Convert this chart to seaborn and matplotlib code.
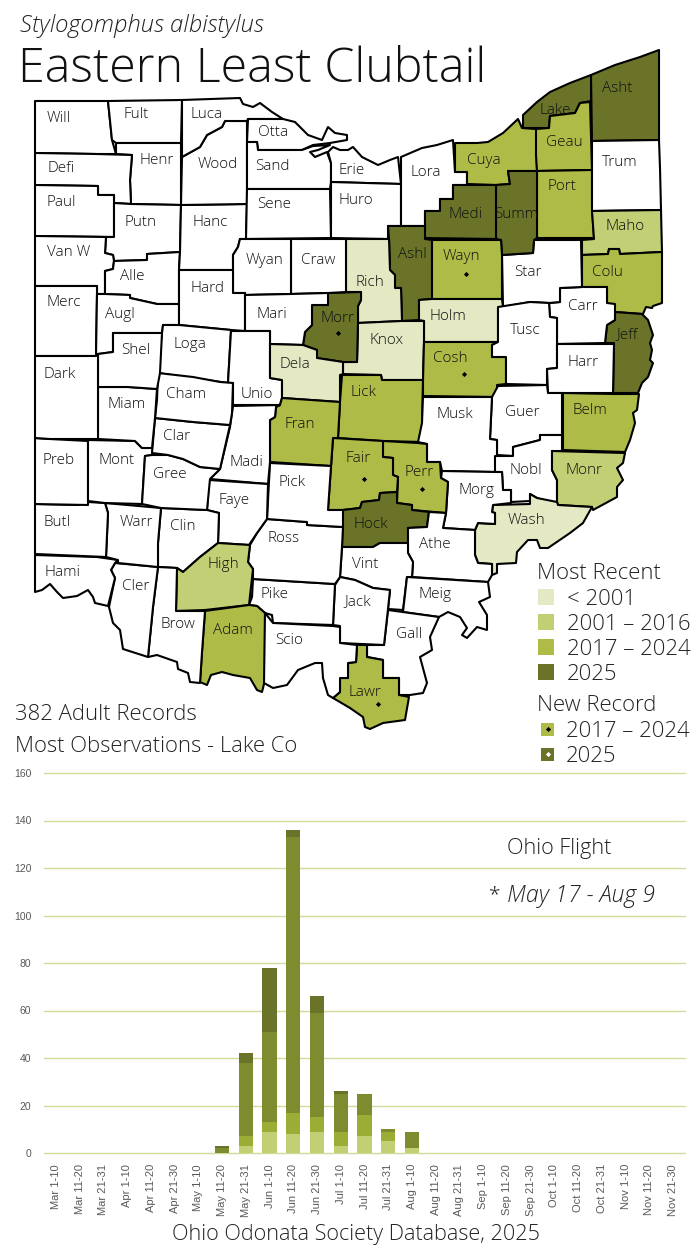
"""
Eastern Least Clubtail - Ohio county map and flight-period chart.
Saves out.png (700x1250).
"""

import matplotlib
matplotlib.use("Agg")
import matplotlib.pyplot as plt
from matplotlib.patches import Polygon, Rectangle
import seaborn as sns

# ─── Flight chart data ───────────────────────────────────────────────────────

periods = [
    "Mar 1-10", "Mar 11-20", "Mar 21-31", "Apr 1-10", "Apr 11-20", "Apr 21-30",
    "May 1-10", "May 11-20", "May 21-31", "Jun 1-10", "Jun 11-20", "Jun 21-30",
    "Jul 1-10", "Jul 11-20", "Jul 21-31", "Aug 1-10", "Aug 11-20", "Aug 21-31",
    "Sep 1-10", "Sep 11-20", "Sep 21-30", "Oct 1-10", "Oct 11-20", "Oct 21-31",
    "Nov 1-10", "Nov 11-20", "Nov 21-30",
]
span_2001 = [0, 0, 0, 0, 0, 0, 0, 0, 3, 9, 8, 9, 3, 7, 5, 2, 0, 0, 0, 0, 0, 0, 0, 0, 0, 0, 0]
span_2017 = [0, 0, 0, 0, 0, 0, 0, 0, 4, 4, 9, 6, 6, 9, 4, 0, 0, 0, 0, 0, 0, 0, 0, 0, 0, 0, 0]
span_2024 = [0, 0, 0, 0, 0, 0, 0, 2, 31, 38, 116, 44, 16, 9, 1, 7, 0, 0, 0, 0, 0, 0, 0, 0, 0, 0, 0]
span_2025 = [0, 0, 0, 0, 0, 0, 0, 1, 4, 27, 3, 7, 1, 0, 0, 0, 0, 0, 0, 0, 0, 0, 0, 0, 0, 0, 0]
y_ticks = [0, 20, 40, 60, 80, 100, 120, 140, 160]

# ─── County outlines (map pixels) ────────────────────────────────────────────

WILL = [(35,101),(108,101),(112,140),(116,154),(96,154),(35,153)]
FULT = [(108,101),(182,100),(181,143),(116,143),(112,140)]
HENR = [(116,143),(181,143),(181,205),(131,204),(130,180),(132,155),(116,154)]
DEFI = [(35,153),(96,154),(132,155),(130,180),(131,204),(114,203),(114,195),(98,195),(98,186),(35,185)]
PAUL = [(35,185),(98,186),(98,195),(114,195),(114,237),(35,236)]
PUTN = [(114,203),(131,204),(181,205),(180,252),(147,254),(147,260),(114,261),(113,255),(105,253),(106,237),(114,237)]
VANW = [(35,236),(106,237),(105,253),(113,255),(114,261),(113,269),(105,271),(105,294),(97,294),(97,286),(35,286)]
ALLE = [(114,261),(147,260),(147,254),(180,252),(179,270),(179,304),(157,304),(130,298),(130,295),(105,294),(105,271),(113,269)]
MERC = [(35,286),(97,286),(97,294),(96,356),(35,356)]
AUGL = [(97,294),(105,294),(130,295),(130,298),(157,304),(179,304),(179,325),(163,325),(162,333),(113,333),(113,352),(98,354),(96,356)]
HANC = [(181,205),(247,204),(246,239),(240,239),(238,247),(233,255),(233,270),(179,270),(180,252)]
WOOD = [(182,157),(200,147),(207,135),(222,127),(225,121),(247,121),(247,189),(247,204),(181,205)]
LUCA = [(182,100),(240,98),(243,104),(253,107),(260,103),(272,112),(283,119),(248,119),(247,121),(225,121),(222,127),(207,135),(200,147),(182,157)]
OTTA = [(248,119),(283,119),(295,122),(308,135),(322,140),(328,127),(335,133),(347,135),(347,140),(330,143),(313,145),(302,150),(258,150),(257,142),(247,142)]
SAND = [(247,142),(257,142),(258,150),(302,150),(313,146),(330,145),(318,150),(310,152),(315,157),(327,152),(328,155),(331,163),(331,182),(330,189),(247,189)]
SENE = [(247,189),(330,189),(331,238),(246,239)]
ERIE = [(328,152),(333,147),(340,150),(348,150),(353,147),(362,157),(378,165),(390,160),(398,157),(401,184),(331,182),(331,163)]
HURO = [(331,182),(401,184),(401,226),(388,226),(388,239),(331,238)]
LORA = [(401,157),(422,148),(437,145),(453,140),(455,172),(467,172),(467,185),(453,185),(453,199),(440,199),(440,211),(425,211),(425,226),(401,226)]
CUYA = [(455,143),(477,143),(488,142),(503,133),(518,119),(522,128),(536,129),(537,171),(508,171),(510,184),(496,185),(467,184),(467,172),(455,172)]
LAKE = [(523,115),(537,102),(550,92),(570,83),(591,75),(591,101),(580,103),(575,113),(550,116),(549,128),(523,128)]
ASHT = [(591,75),(615,65),(640,57),(659,50),(659,140),(592,141)]
GEAU = [(580,103),(590,102),(592,170),(537,171),(536,155),(536,129),(549,128),(550,116),(575,113)]
PORT = [(537,171),(592,170),(592,208),(594,238),(537,238)]
TRUM = [(592,141),(659,140),(660,168),(661,210),(592,211)]
MAHO = [(592,211),(661,210),(662,252),(620,254),(619,249),(609,249),(608,254),(582,255),(582,240),(594,239)]
COLU = [(582,255),(608,254),(609,249),(619,249),(620,254),(662,252),(662,303),(653,306),(652,308),(646,307),(643,314),(615,312),(607,303),(607,287),(582,287)]
JEFF = [(615,312),(642,314),(648,320),(653,335),(650,343),(652,350),(650,360),(653,363),(648,377),(642,383),(638,393),(613,393),(614,343),(605,343),(607,325),(615,320)]
CARR = [(560,288),(582,287),(607,287),(607,303),(615,304),(615,320),(607,325),(605,343),(557,344),(557,318),(550,317),(549,303),(560,302)]
STAR = [(502,255),(533,253),(534,240),(581,240),(582,287),(560,288),(560,302),(549,303),(530,302),(503,307)]
SUMM = [(496,185),(510,184),(508,171),(537,171),(537,238),(534,240),(533,253),(502,255),(501,240),(496,239)]
MEDI = [(453,185),(496,185),(496,239),(425,238),(425,211),(440,211),(440,199),(453,199)]
ASHL = [(388,226),(425,226),(425,239),(432,240),(432,299),(419,300),(419,320),(402,321),(401,288),(395,288),(395,275),(390,270),(389,239)]
WAYN = [(432,240),(501,240),(502,255),(502,299),(432,299)]
HOLM = [(419,300),(432,299),(502,299),(503,307),(498,308),(498,342),(424,342),(424,321),(419,320)]
RICH = [(346,239),(389,239),(390,270),(395,275),(395,288),(401,288),(402,321),(358,323),(358,306),(361,300),(361,292),(346,292)]
KNOX = [(358,323),(402,321),(424,321),(424,342),(423,380),(382,380),(381,375),(343,374),(343,362),(357,362)]
MORR = [(328,293),(361,292),(361,300),(358,306),(358,323),(357,362),(343,362),(317,358),(317,350),(303,345),(305,332),(312,325),(312,305),(328,305)]
CRAW = [(291,239),(346,239),(346,292),(328,293),(291,294)]
WYAN = [(240,239),(291,239),(291,294),(245,295),(245,293),(233,293),(233,255),(238,247)]
HARD = [(179,270),(233,270),(233,293),(245,293),(245,331),(231,330),(179,325)]
MARI = [(245,295),(291,294),(328,293),(328,305),(312,305),(312,325),(305,332),(303,345),(270,344),(270,331),(245,331)]
LOGA = [(163,325),(179,325),(231,330),(228,383),(193,378),(158,373),(160,350)]
UNIO = [(231,331),(270,331),(270,378),(282,380),(282,398),(280,405),(233,405),(233,383),(228,383)]
DELA = [(270,344),(303,345),(317,350),(317,358),(343,362),(343,374),(340,375),(340,402),(282,398),(282,380),(270,378)]
LICK = [(342,375),(381,375),(382,380),(423,380),(422,423),(422,442),(383,441),(338,438),(340,402)]
COSH = [(424,342),(498,342),(492,345),(492,357),(506,357),(506,384),(497,385),(497,397),(423,396),(423,381)]
TUSC = [(498,307),(530,302),(549,303),(550,317),(557,318),(557,368),(547,369),(547,385),(506,384),(506,357),(492,357),(492,345),(498,342)]
HARR = [(557,344),(614,344),(613,393),(548,393),(547,369),(557,368)]
GUER = [(498,386),(547,385),(548,393),(562,393),(562,435),(540,435),(540,440),(513,447),(513,456),(497,455),(497,440),(490,439),(492,397)]
MUSK = [(423,397),(492,397),(490,439),(497,440),(497,455),(495,472),(442,471),(440,462),(427,462),(427,444),(418,442),(422,423)]
BELM = [(563,393),(613,394),(639,394),(637,410),(633,413),(635,423),(630,440),(625,452),(563,450)]
NOBL = [(495,456),(513,456),(513,447),(540,440),(540,435),(562,435),(562,451),(552,451),(552,470),(557,480),(557,502),(547,502),(537,498),(530,494),(530,501),(511,502),(511,490),(503,490),(502,472),(495,472)]
MONR = [(552,451),(625,453),(623,463),(617,468),(623,480),(617,487),(617,497),(593,510),(592,507),(558,505),(557,502),(557,480),(552,470)]
WASH = [(493,505),(530,504),(530,494),(537,498),(557,502),(558,505),(592,507),(583,523),(570,533),(548,548),(540,548),(537,540),(528,540),(517,552),(516,563),(497,564),(497,573),(492,575),(492,564),(478,563),(475,555),(475,530),(478,523),(495,524),(495,513),(492,512)]
MORG = [(442,471),(495,472),(502,472),(503,490),(511,490),(511,503),(493,505),(492,512),(495,513),(495,524),(478,523),(475,530),(443,528),(446,513),(448,482),(441,478)]
PERR = [(383,441),(418,443),(427,444),(427,462),(440,462),(441,478),(448,482),(446,513),(412,510),(412,505),(397,503),(398,477),(393,475),(393,458),(383,457)]
FAIR = [(333,438),(383,441),(383,457),(393,458),(393,475),(398,477),(397,492),(380,493),(379,500),(362,502),(360,508),(343,510),(328,510),(331,467)]
FRAN = [(282,398),(340,402),(338,438),(333,438),(331,466),(270,462),(270,420),(275,417),(276,407),(280,405)]
HOCK = [(380,493),(397,492),(397,503),(412,505),(412,510),(429,512),(427,527),(408,528),(408,543),(380,543),(373,547),(342,547),(343,510),(360,508),(362,502),(379,500)]
ATHE = [(429,512),(446,513),(443,528),(475,530),(475,555),(478,563),(492,564),(492,575),(488,582),(412,577),(413,562),(408,553),(408,528),(427,527)]
VINT = [(342,547),(373,547),(380,543),(408,543),(408,553),(413,562),(412,577),(407,577),(403,610),(388,609),(390,590),(373,588),(355,580),(340,577)]
MEIG = [(407,577),(488,582),(490,597),(479,602),(487,615),(487,630),(477,627),(467,638),(462,635),(467,628),(460,617),(448,612),(439,617),(403,612)]
GALL = [(388,610),(439,617),(430,637),(432,650),(420,657),(427,683),(423,693),(410,695),(399,695),(399,678),(383,678),(383,660),(367,657),(367,645),(384,645)]
LAWR = [(357,645),(367,645),(367,657),(383,660),(383,678),(399,678),(399,695),(409,697),(405,720),(383,723),(370,729),(365,727),(363,717),(350,708),(333,698),(340,692),(340,678),(348,678),(348,663),(356,662)]
JACK = [(340,577),(355,580),(373,588),(390,590),(388,609),(384,645),(340,643),(340,626),(333,625),(335,585)]
PIKE = [(253,579),(335,584),(333,625),(273,623),(272,615),(265,613),(257,606),(249,605),(252,597)]
ROSS = [(267,519),(307,522),(307,525),(343,527),(342,547),(340,577),(335,584),(253,579),(253,569),(248,562),(250,545),(257,533)]
PICK = [(270,463),(331,466),(328,510),(343,510),(343,527),(307,525),(307,522),(267,519)]
MADI = [(233,406),(280,405),(276,407),(275,417),(270,420),(270,462),(268,484),(210,479),(220,469),(230,427),(232,413)]
FAYE = [(209,480),(268,484),(267,519),(257,533),(249,545),(218,543),(219,513),(207,510)]
CLIN = [(161,508),(207,510),(219,513),(218,543),(200,557),(183,572),(177,568),(158,567),(158,543)]
HIGH = [(218,543),(250,545),(248,562),(253,569),(249,605),(205,610),(176,611),(177,568),(183,572),(200,557)]
ADAM = [(205,611),(249,605),(257,606),(265,613),(265,680),(262,692),(257,690),(250,678),(233,675),(222,672),(211,675),(207,685),(200,682),(202,652)]
SCIO = [(265,613),(273,623),(333,626),(340,627),(340,643),(357,645),(356,662),(348,663),(348,678),(340,678),(340,692),(333,698),(328,695),(323,678),(322,663),(315,663),(298,670),(287,685),(273,688),(264,683)]
BROW = [(158,567),(177,568),(176,611),(205,611),(202,652),(200,683),(190,682),(188,673),(178,669),(177,662),(157,655),(148,657),(153,607)]
CLER = [(115,563),(158,567),(153,607),(148,657),(123,649),(120,630),(113,623),(109,607),(115,578),(111,570)]
HAMI = [(35,555),(97,557),(118,560),(115,563),(111,570),(115,578),(108,606),(95,603),(93,597),(88,590),(77,596),(63,598),(57,592),(50,584),(42,590),(35,592)]
WARR = [(105,503),(161,508),(158,543),(158,567),(118,563),(118,560),(106,557),(108,513)]
BUTL = [(35,504),(78,505),(88,502),(105,503),(108,513),(106,557),(35,554)]
PREB = [(35,438),(50,439),(88,441),(88,505),(35,504)]
MONT = [(88,440),(135,441),(142,448),(153,448),(152,455),(145,456),(142,504),(105,503),(88,501)]
GREE = [(145,456),(152,455),(168,455),(183,459),(200,467),(220,469),(210,479),(207,510),(161,508),(142,504)]
CLAR = [(155,418),(193,422),(230,425),(220,469),(200,467),(183,459),(168,455),(152,453)]
CHAM = [(158,373),(193,377),(220,382),(233,383),(232,413),(230,425),(193,422),(155,418),(157,400)]
MIAM = [(98,387),(128,387),(157,389),(155,418),(152,448),(142,448),(135,441),(98,439)]
SHEL = [(113,333),(162,333),(160,373),(157,389),(128,387),(98,387),(98,354),(113,352)]
DARK = [(35,356),(96,356),(98,354),(98,387),(98,439),(50,439),(35,438)]

county_names = [
    "Will", "Fult", "Henr", "Defi", "Paul", "Putn", "Van W", "Alle", "Merc", "Augl", "Hanc",
    "Wood", "Luca", "Otta", "Sand", "Sene", "Erie", "Huro", "Lora", "Cuya", "Lake", "Asht",
    "Geau", "Port", "Trum", "Maho", "Colu", "Jeff", "Carr", "Star", "Summ", "Medi", "Ashl",
    "Wayn", "Holm", "Rich", "Knox", "Morr", "Craw", "Wyan", "Hard", "Mari", "Loga", "Unio",
    "Dela", "Lick", "Cosh", "Tusc", "Harr", "Guer", "Musk", "Belm", "Nobl", "Monr", "Wash",
    "Morg", "Perr", "Fair", "Fran", "Hock", "Athe", "Vint", "Meig", "Gall", "Lawr", "Jack",
    "Pike", "Ross", "Pick", "Madi", "Faye", "Clin", "High", "Adam", "Scio", "Brow", "Cler",
    "Hami", "Warr", "Butl", "Preb", "Mont", "Gree", "Clar", "Cham", "Miam", "Shel", "Dark",
]
county_outlines = [
    WILL, FULT, HENR, DEFI, PAUL, PUTN, VANW, ALLE, MERC, AUGL, HANC,
    WOOD, LUCA, OTTA, SAND, SENE, ERIE, HURO, LORA, CUYA, LAKE, ASHT,
    GEAU, PORT, TRUM, MAHO, COLU, JEFF, CARR, STAR, SUMM, MEDI, ASHL,
    WAYN, HOLM, RICH, KNOX, MORR, CRAW, WYAN, HARD, MARI, LOGA, UNIO,
    DELA, LICK, COSH, TUSC, HARR, GUER, MUSK, BELM, NOBL, MONR, WASH,
    MORG, PERR, FAIR, FRAN, HOCK, ATHE, VINT, MEIG, GALL, LAWR, JACK,
    PIKE, ROSS, PICK, MADI, FAYE, CLIN, HIGH, ADAM, SCIO, BROW, CLER,
    HAMI, WARR, BUTL, PREB, MONT, GREE, CLAR, CHAM, MIAM, SHEL, DARK,
]
label_x = [
    59, 136, 157, 61, 61, 141, 69, 132, 64, 120, 210,
    218, 207, 273, 272, 274, 352, 356, 426, 484, 555, 617,
    564, 562, 620, 625, 607, 627, 583, 528, 516, 466, 412,
    461, 448, 370, 387, 337, 318, 265, 207, 272, 190, 257,
    295, 364, 450, 525, 583, 522, 455, 590, 526, 584, 526,
    477, 419, 358, 300, 371, 435, 365, 435, 409, 365, 358,
    274, 284, 292, 246, 234, 183, 223, 233, 289, 178, 136,
    62, 136, 57, 59, 117, 170, 177, 186, 127, 136, 60,
]
label_y = [
    117, 113, 159, 167, 201, 221, 250, 275, 301, 312, 220,
    162, 112, 131, 164, 203, 169, 198, 171, 159, 108, 87,
    141, 185, 160, 224, 270, 333, 304, 271, 213, 213, 252,
    255, 314, 280, 338, 317, 258, 258, 286, 312, 343, 392,
    362, 391, 356, 329, 360, 410, 412, 409, 469, 468, 518,
    489, 470, 456, 422, 522, 542, 562, 593, 633, 690, 600,
    593, 537, 480, 460, 498, 525, 563, 629, 639, 623, 584,
    571, 520, 521, 458, 458, 473, 435, 392, 402, 349, 373,
]

recent_pre2001 = ["Rich", "Holm", "Knox", "Dela", "Wash"]
recent_2001_2016 = ["Maho", "Monr", "High"]
recent_2017_2024 = ["Cuya", "Geau", "Port", "Wayn", "Colu", "Cosh", "Lick", "Fran",
                    "Fair", "Perr", "Belm", "Adam", "Lawr"]
recent_2025 = ["Asht", "Lake", "Medi", "Summ", "Ashl", "Morr", "Jeff", "Hock"]

new_record_x = [466, 338, 464, 364, 422, 378]
new_record_y = [274, 333, 374, 479, 489, 704]

legend_recent = ["< 2001", "2001 – 2016", "2017 – 2024", "2025"]
legend_new = ["2017 – 2024", "2025"]

# ─── Style ───────────────────────────────────────────────────────────────────

C_PRE2001 = "#E4E9C4"
C_2001 = "#C2CF75"
C_2017 = "#AEBC47"
C_2025 = "#6B7329"
BAR_B = "#9CAD36"
BAR_C = "#7E8B2F"
GRID = "#D2DA97"
FONT = "Open Sans"
TEXT = "#222222"

sns.set_theme(style="white")
plt.rcParams["font.family"] = [FONT, "DejaVu Sans"]
plt.rcParams["font.weight"] = "light"


def status_color(name):
    if name in recent_pre2001:
        return C_PRE2001
    if name in recent_2001_2016:
        return C_2001
    if name in recent_2017_2024:
        return C_2017
    if name in recent_2025:
        return C_2025
    return "white"


fig = plt.figure(figsize=(7, 12.5), dpi=100, facecolor="white")

# ─── Map ─────────────────────────────────────────────────────────────────────

ax = fig.add_axes([0, 0, 1, 1])
ax.set_xlim(0, 700)
ax.set_ylim(1250, 0)
ax.axis("off")

for outline, name in zip(county_outlines, county_names):
    ax.add_patch(Polygon(outline, closed=True, facecolor=status_color(name),
                         edgecolor="black", linewidth=1.5, joinstyle="round", zorder=2))

for x, y, name in zip(label_x, label_y, county_names):
    ax.text(x, y, name, ha="center", va="center_baseline", fontsize=11, color="#111111", zorder=4)

ax.scatter(new_record_x, new_record_y, marker="D", s=7, color="black", linewidths=0, zorder=4)

# ─── Titles and legend ───────────────────────────────────────────────────────

ax.text(20, 23, "Stylogomphus albistylus", fontsize=17.2, style="italic", va="center_baseline", color=TEXT)
ax.text(18, 64, "Eastern Least Clubtail", fontsize=34.8, va="center_baseline", color="#111111")
ax.text(15, 712, "382 Adult Records", fontsize=15.9, va="center_baseline", color=TEXT)
ax.text(15, 744, "Most Observations - Lake Co", fontsize=15.8, va="center_baseline", color=TEXT)

ax.text(537, 571, "Most Recent", fontsize=15.9, va="center_baseline", color=TEXT)
for y, label, color in zip([597, 622, 647, 672], legend_recent, [C_PRE2001, C_2001, C_2017, C_2025]):
    ax.add_patch(Rectangle((538, y - 8), 16, 16, facecolor=color, edgecolor="none"))
    ax.text(567, y, label, fontsize=15.9, va="center_baseline", color=TEXT)

ax.text(537, 703, "New Record", fontsize=15.9, va="center_baseline", color=TEXT)
for y, label, color, dot in zip([729, 754], legend_new, [C_2017, C_2025], ["black", "white"]):
    ax.add_patch(Rectangle((541, y - 6.5), 13, 13, facecolor=color, edgecolor="none"))
    ax.scatter([547.5], [y], marker="D", s=7, color=dot, linewidths=0, zorder=4)
    ax.text(566, y, label, fontsize=15.9, va="center_baseline", color=TEXT)

ax.text(559, 846, "Ohio Flight", fontsize=15.6, ha="center", va="center_baseline", color=TEXT)
ax.text(489, 893, "*", fontsize=15, va="center_baseline", color=TEXT)
ax.text(507, 893, "May 17 - Aug 9", fontsize=16.7, style="italic", va="center_baseline", color=TEXT)
ax.text(356, 1232, "Ohio Odonata Society Database, 2025", fontsize=15.6, ha="center",
        va="center_baseline", color=TEXT)

# ─── Flight chart ────────────────────────────────────────────────────────────

ax_bar = fig.add_axes([44 / 700, 1 - 1153 / 1250, (685 - 44) / 700, (1153 - 773) / 1250])
ax_bar.patch.set_alpha(0)

bottom = [0] * len(periods)
for values, color in [(span_2001, C_2001), (span_2017, BAR_B), (span_2024, BAR_C), (span_2025, C_2025)]:
    sns.barplot(x=periods, y=values, bottom=bottom, color=color, width=0.6, saturation=1,
                linewidth=0, ax=ax_bar, zorder=3)
    bottom = [b + v for b, v in zip(bottom, values)]

ax_bar.set_xlim(-0.5, len(periods) - 0.5)
ax_bar.set_ylim(0, 160)
ax_bar.set_yticks(y_ticks)
ax_bar.grid(axis="y", color=GRID, linewidth=1.0, zorder=0, clip_on=False)
ax_bar.set_axisbelow(True)
sns.despine(ax=ax_bar, left=True, bottom=True, top=True, right=True)
ax_bar.tick_params(axis="x", rotation=90, labelsize=8, colors="#595959", length=0, pad=8)
ax_bar.tick_params(axis="y", labelsize=7.5, colors="#595959", length=0, pad=9)
for tick in ax_bar.get_xticklabels() + ax_bar.get_yticklabels():
    tick.set_fontfamily(["Liberation Sans", "DejaVu Sans"])
    tick.set_fontweight("normal")
ax_bar.set_xlabel("")
ax_bar.set_ylabel("")

fig.savefig("out.png", dpi=100)
plt.close(fig)
